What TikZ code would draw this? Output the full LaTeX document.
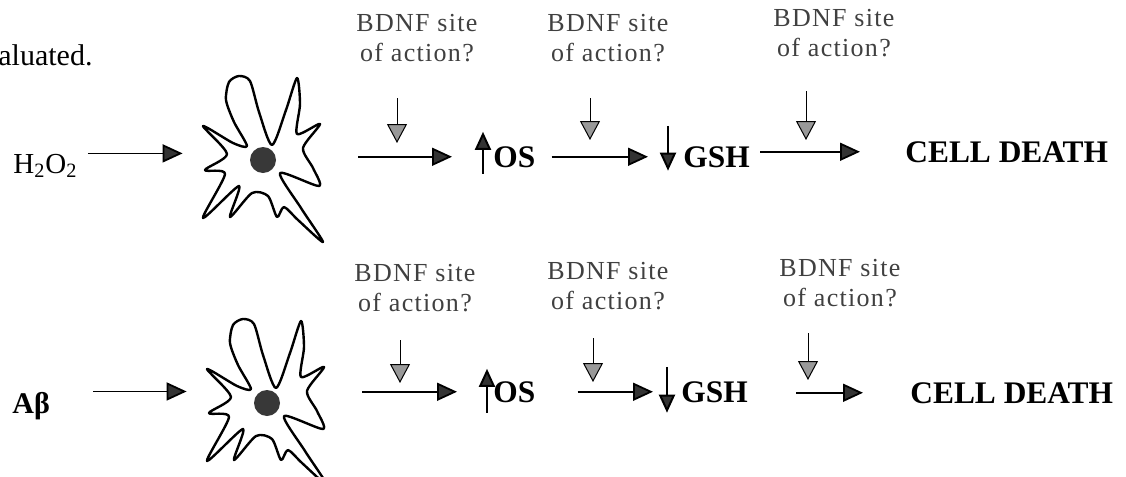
\documentclass[tikz,border=0pt]{standalone}
\usepackage{fontspec}
\setmainfont{Liberation Serif}
\newfontfamily\sitefont[LetterSpace=5]{Liberation Serif}
\usetikzlibrary{arrows.meta}

\tikzset{
  neuron/.pic={
    \draw[line width=1.2pt, line join=round]
      plot[smooth cycle, tension=0.45] coordinates {
        (-16,-14) (-29,-38) (-37,-60) (-34,-78) (-24,-84) (-13,-79) (-4,-48)
        (9,-15) (23,-50) (34,-82) (37,-56) (34,-26) (57,-36) (40,-12)
        (50,8) (56,26) (17,13) (38,48) (60,82) (35,60) (21,47) (14,57)
        (5,36) (-11,33) (-33,57) (-24,26) (-60,58) (-38,14) (-58,10)
        (-36,-6) (-60,-34) (-30,-17)};
  }
}

\begin{document}
\begin{tikzpicture}[x=0.5pt, y=-0.5pt,
    site/.style={align=center, inner sep=0pt, anchor=north, text=black!75,
      font=\sitefont\fontsize{13}{15}\selectfont},
    stage/.style={inner sep=0pt, anchor=base west,
      font=\bfseries\fontsize{15.7}{18}\selectfont},
    agent/.style={inner sep=0pt, anchor=base west,
      font=\fontsize{14.5}{17}\selectfont},
    nucleus/.style={circle, fill=black!78, inner sep=0pt, minimum size=13pt},
    flow/.style={line width=0.9pt, -{Triangle[length=10pt,width=9pt,fill=black!80]}},
    hint/.style={line width=0.5pt, -{Triangle[length=9.5pt,width=10pt,fill=black!40]}},
    trend/.style={line width=1pt, -{Triangle[length=9pt,width=8pt,fill=black!80]}}]
  \useasboundingbox (0,0) rectangle (1126,477);

  \node[agent, font=\fontsize{15}{18}\selectfont] (prev) at (-2,65) {aluated.};

  % H2O2 pathway
  \node[agent] (h2o2) at (13,173) {H\textsubscript{2}O\textsubscript{2}};
  \node[nucleus] (nuc1) at (263,160) {};
  \pic at (nuc1) {neuron};
  \node[stage] (os1) at (493,167) {OS};
  \node[stage] (gsh1) at (683,167) {GSH};
  \node[stage] (death1) at (905,162) {CELL DEATH};

  \draw[flow, shorten <=5pt, shorten >=33.5pt] (h2o2.north east) -- (h2o2.north east -| nuc1.west);
  \draw[flow, shorten <=41pt, shorten >=20.5pt] (os1.west -| nuc1.east) -- (os1.west);
  \draw[trend] ([xshift=-5pt,yshift=-3pt]os1.south west) -- ([xshift=-5pt,yshift=7pt]os1.north west);
  \draw[flow, shorten <=8pt, shorten >=17.5pt] (os1.east) -- (gsh1.west);
  \draw[trend] ([xshift=-7.5pt,yshift=10pt]gsh1.north west) -- ([xshift=-7.5pt,yshift=-1.5pt]gsh1.south west);
  \draw[flow, shorten <=5pt, shorten >=22.5pt] (death1.west -| gsh1.east) -- (death1.west);

  \node[site] (site1) at (417,14) {BDNF site\\of action?};
  \node[site] (site2) at (608,14) {BDNF site\\of action?};
  \node[site] (site3) at (834,9) {BDNF site\\of action?};
  \coordinate (tip1) at (397,143);
  \coordinate (tip2) at (590,140);
  \coordinate (tip3) at (806,140);
  \draw[hint, shorten <=18pt] (site1.south -| tip1) -- (tip1);
  \draw[hint, shorten <=18pt] (site2.south -| tip2) -- (tip2);
  \draw[hint, shorten <=17pt] (site3.south -| tip3) -- (tip3);

  % amyloid beta pathway
  \node[agent, font=\bfseries\fontsize{15}{18}\selectfont] (abeta) at (12,413) {Aβ};
  \node[nucleus] (nuc2) at (267,403) {};
  \pic at (nuc2) {neuron};
  \node[stage] (os2) at (493,402) {OS};
  \node[stage] (gsh2) at (681,402) {GSH};
  \node[stage] (death2) at (910,403) {CELL DEATH};

  \draw[flow, shorten <=21.5pt, shorten >=33.5pt] (abeta.north east) -- (abeta.north east -| nuc2.west);
  \draw[flow, shorten <=41pt, shorten >=18pt] (os2.west -| nuc2.east) -- (os2.west);
  \draw[trend] ([xshift=-3pt,yshift=-5pt]os2.south west) -- ([xshift=-3pt,yshift=6pt]os2.north west);
  \draw[flow, shorten <=21pt, shorten >=14pt] (os2.east) -- (gsh2.west);
  \draw[trend] ([xshift=-7pt,yshift=7pt]gsh2.north west) -- ([xshift=-7pt,yshift=-5pt]gsh2.south west);
  \draw[flow, shorten <=24pt, shorten >=23.5pt] (death2.west -| gsh2.east) -- (death2.west);

  \node[site] (site4) at (415,264) {BDNF site\\of action?};
  \node[site] (site5) at (608,262) {BDNF site\\of action?};
  \node[site] (site6) at (840,259) {BDNF site\\of action?};
  \coordinate (tip4) at (400,383);
  \coordinate (tip5) at (593,382);
  \coordinate (tip6) at (808,380);
  \draw[hint, shorten <=14pt] (site4.south -| tip4) -- (tip4);
  \draw[hint, shorten <=14pt] (site5.south -| tip5) -- (tip5);
  \draw[hint, shorten <=13pt] (site6.south -| tip6) -- (tip6);
\end{tikzpicture}
\end{document}
